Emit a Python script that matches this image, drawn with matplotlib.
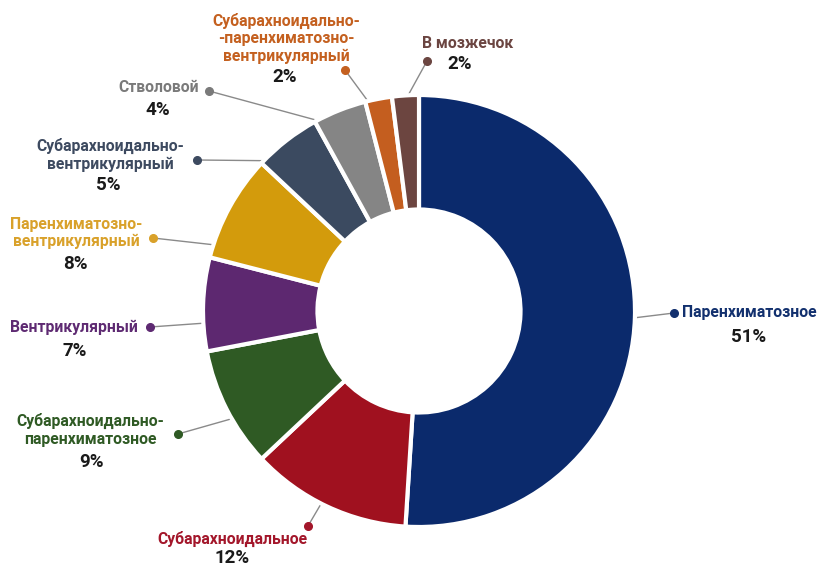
import numpy as np
import matplotlib.pyplot as plt

plt.rcParams["font.family"] = ["Roboto", "DejaVu Sans"]

# chart data (clockwise from 12 o'clock)
labels = [
    "Паренхиматозное",
    "Субарахноидальное",
    "Субарахноидально-\nпаренхиматозное",
    "Вентрикулярный",
    "Паренхиматозно-\nвентрикулярный",
    "Субарахноидально-\nвентрикулярный",
    "Стволовой",
    "Субарахноидально-\n-паренхиматозно-\nвентрикулярный",
    "В мозжечок",
]
shares = [51, 12, 9, 7, 8, 5, 4, 2, 2]
pct_labels = ["51%", "12%", "9%", "7%", "8%", "5%", "4%", "2%", "2%"]

wedge_colors = ["#0b2a6c", "#a0111f", "#2f5a24", "#5d2870", "#d39b0c",
                "#3b4a60", "#858585", "#c45e1f", "#6c4540"]
text_colors = ["#12306e", "#a3162a", "#2f5a24", "#5e2a72", "#d9a12a",
               "#3d4a60", "#7a7a7a", "#c4601f", "#6b4541"]

# layout, in image pixels: dot, label anchor, label alignment, percent anchor,
# and where along the wedge arc the leader line starts
dots = [(674, 313), (308, 526), (178, 434), (150, 327), (153, 238),
        (197, 160), (209, 91), (345, 70), (427, 61)]
label_xy = [(682, 313), (232, 539), (90, 430), (138, 327), (76, 233),
            (110, 155), (159, 87), (286, 38), (422, 43)]
label_ha = ["left", "center", "center", "right", "center",
            "center", "center", "center", "left"]
pct_xy = [(749, 337), (232, 558), (92, 462), (75, 351), (75, 264),
          (108, 185), (158, 110), (285, 77), (460, 64)]
arc_pos = [0.50, 0.54, 0.41, 0.30, 0.12, 0.05, 0.05, 0.1, 0.6]

W, H = 817, 568
cx, cy, R = 419, 311, 216

fig = plt.figure(figsize=(W / 100, H / 100), dpi=100)
ax = fig.add_axes([0, 0, 1, 1])

# y axis points down, so counterclock=True draws clockwise on screen
wedges, _ = ax.pie(shares, colors=wedge_colors, startangle=-90, counterclock=True,
                   radius=R, center=(cx, cy),
                   wedgeprops=dict(width=R * 0.53, edgecolor="white", linewidth=3))
for w in wedges:
    w.set_zorder(3)

for i, w in enumerate(wedges):
    ang = np.deg2rad(w.theta1 + arc_pos[i] * (w.theta2 - w.theta1))
    x0, y0 = cx + R * np.cos(ang), cy + R * np.sin(ang)
    dx, dy = dots[i]
    ax.plot([x0, dx], [y0, dy], color="#8a8a8a", lw=1, zorder=1)
    ax.plot(dx, dy, "o", color=text_colors[i], ms=5.5, zorder=4)
    ax.text(*label_xy[i], labels[i], ha=label_ha[i], va="center", fontsize=11.3,
            fontweight="bold", color=text_colors[i], linespacing=1.2)
    ax.text(*pct_xy[i], pct_labels[i], ha="center", va="center", fontsize=13.5,
            fontweight="bold", color="#1a1a1a")

ax.set_xlim(0, W)
ax.set_ylim(H, 0)
ax.set_aspect("equal")
ax.axis("off")

fig.savefig("out.png", dpi=100, facecolor="white")
